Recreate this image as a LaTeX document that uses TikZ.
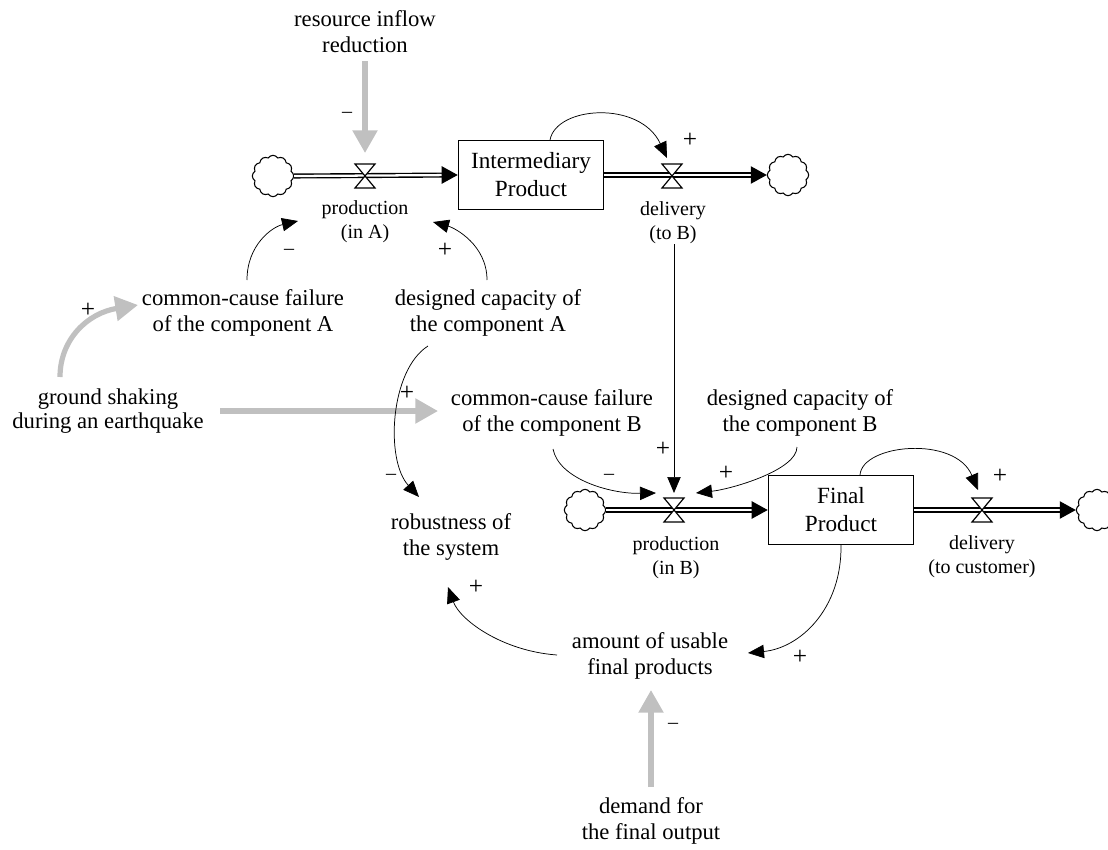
\documentclass[tikz,border=0pt]{standalone}
\usepackage{fontspec}
\setmainfont{Liberation Serif}
\usetikzlibrary{arrows.meta,shapes.symbols,calc}
\definecolor{shockgray}{RGB}{192,192,192}

% hourglass valve drawn over a pipe
\newcommand{\sdvalve}[1]{%
  \draw[fill=white, line width=0.9pt]
    ($(#1)+(-10,-12)$) -- ($(#1)+(10,-12)$) -- ($(#1)+(-10,12)$) -- ($(#1)+(10,12)$) -- cycle;}

\begin{document}
\begin{tikzpicture}[x=0.75pt, y=-0.75pt,
  lbl/.style={align=center, font=\fontsize{17}{19.5}\selectfont, inner sep=0pt},
  flowlbl/.style={align=center, font=\fontsize{15}{18}\selectfont, inner sep=0pt},
  stock/.style={draw, line width=0.9pt, minimum width=109pt, minimum height=51.5pt,
    align=center, inner sep=0pt, font=\fontsize{17.4}{21}\selectfont},
  sink/.style={cloud, cloud puffs=12, cloud puff arc=115, aspect=1, draw, line width=0.8pt,
    minimum width=31pt, minimum height=31pt, inner sep=0pt},
  pipe/.style={double, double distance=1.7pt, line width=1.05pt},
  pipetip/.style={-{Triangle[length=12pt, width=13pt]}, line width=0.9pt},
  link/.style={-{Triangle[length=12pt, width=10pt]}, line width=0.55pt},
  shock/.style={draw=shockgray, line width=3.9pt,
    -{Triangle[length=17pt, width=18pt, fill=shockgray]}},
  sgn/.style={font=\fontsize{19}{19}\selectfont, inner sep=0pt},
  neg/.style={font=\fontsize{15}{15}\selectfont, inner sep=0pt}
]
\path[use as bounding box] (0,0) rectangle (1108,850);

% ---------- upper chain: component A ----------
\node[sink] (srcA) at (273,176) {};
\coordinate (vA) at (365,176);
\node[stock] (boxA) at (531,175) {Intermediary\\Product};
\coordinate (vDB) at (672,176);
\node[sink] (snkA) at (788,175) {};

\draw[pipe, shorten >=9pt] (srcA.east) -- (boxA.west);
\draw[pipetip] ($(boxA.west)+(-16,0)$) -- (boxA.west);
\draw[pipe, shorten >=9pt] (boxA.east) -- (snkA.west);
\draw[pipetip] ($(snkA.west)+(-16,0)$) -- (snkA.west);
\sdvalve{vA}
\sdvalve{vDB}

\node[flowlbl] (pA) at (365,222) {production\\(in A)};
\node[flowlbl] (dB) at (673,223) {delivery\\(to B)};

% ---------- lower chain: component B ----------
\node[sink] (srcB) at (585,510) {};
\coordinate (vB) at (674,510);
\node[stock] (boxB) at (841,510) {Final\\Product};
\coordinate (vC) at (982,510);
\node[sink] (snkB) at (1097,510) {};

\draw[pipe, shorten >=9pt] (srcB.east) -- (boxB.west);
\draw[pipetip] ($(boxB.west)+(-16,0)$) -- (boxB.west);
\draw[pipe, shorten >=9pt] (boxB.east) -- (snkB.west);
\draw[pipetip] ($(snkB.west)+(-16,0)$) -- (snkB.west);
\sdvalve{vB}
\sdvalve{vC}

\node[flowlbl] (pB) at (676,558) {production\\(in B)};
\node[flowlbl] (dC) at (982,557) {delivery\\(to customer)};

% ---------- auxiliary variables ----------
\node[lbl] (rir) at (365,32) {resource inflow\\reduction};
\node[lbl] (ccfA) at (243,313) {common-cause failure\\of the component A};
\node[lbl] (dcA) at (488,313) {designed capacity of\\the component A};
\node[lbl, font=\fontsize{17}{18.5}\selectfont] (gs) at (108,411) {ground shaking\\during an earthquake};
\node[lbl] (ccfB) at (552,413) {common-cause failure\\of the component B};
\node[lbl] (dcB) at (800,413) {designed capacity of\\the component B};
\node[lbl] (rob) at (451,537) {robustness of\\the system};
\node[lbl] (amt) at (650,656) {amount of usable\\final products};
\node[lbl] (dem) at (651,821) {demand for\\the final output};

% ---------- external shocks (grey) ----------
\draw[shock] ($(rir)+(0,29)$) -- ($(vA)+(0,-23)$);
\draw[shock] ($(gs)+(-48,-34)$) .. controls +(0,-38) and +(-50,8) .. ($(ccfA)+(-105,-8)$);
\draw[shock] ($(gs)+(112,0)$) -- ($(ccfB)+(-114,-2)$);
\draw[shock] ($(dem)+(0,-34)$) -- ($(amt)+(1,34)$);

% ---------- causal links ----------
\draw[link] ($(ccfA)+(4,-33)$) .. controls +(0,-35) and +(-26,6) .. ($(pA)+(-67,-1)$);
\draw[link] ($(dcA)+(-1,-33)$) .. controls +(0,-35) and +(22,6) .. ($(pA)+(68,0)$);
\draw[link] ($(boxA.north)+(19,0)$) .. controls +(6,-34) and +(-27,-58) .. ($(vDB)+(-5,-18)$);
\draw[link] (dB.south -| vB) -- ($(vB)+(0,-17)$);
\draw[link] ($(ccfB)+(1,36)$) .. controls +(6,30) and +(-46,1) .. ($(vB)+(-18,-17)$);
\draw[link] ($(dcB)+(-3,34)$) .. controls +(0,23) and +(36,-4) .. ($(vB)+(22,-17)$);
\draw[link] ($(dcA)+(-60,33)$) .. controls +(-38,24) and +(-34,-37) .. ($(rob)+(-32,-40)$);
\draw[link] ($(boxB.north)+(19,0)$) .. controls +(2,-31) and +(-23,-55) .. ($(vC)+(-4,-20)$);
\draw[link] (boxB.south) .. controls +(1,64) and +(52,-5) .. ($(amt)+(98,-3)$);
\draw[link] ($(amt)+(-93,-1)$) .. controls +(-55,-4) and +(12,33) .. ($(rob)+(-3,50)$);

% ---------- polarities ----------
\node[neg] (s1) at (347,115) {–};
\node[neg] (s2) at (289,252) {–};
\node[sgn] (s3) at (445,250) {+};
\node[sgn] (s4) at (690,140) {+};
\node[sgn] (s5) at (88,310) {+};
\node[sgn] (s6) at (407,393) {+};
\node[neg] (s7) at (391,477) {–};
\node[sgn] (s8) at (663,449) {+};
\node[neg] (s9) at (609,477) {–};
\node[sgn] (s10) at (726,473) {+};
\node[sgn] (s11) at (1000,476) {+};
\node[sgn] (s12) at (476,587) {+};
\node[sgn] (s13) at (800,657) {+};
\node[neg] (s14) at (673,726) {–};
\end{tikzpicture}
\end{document}
